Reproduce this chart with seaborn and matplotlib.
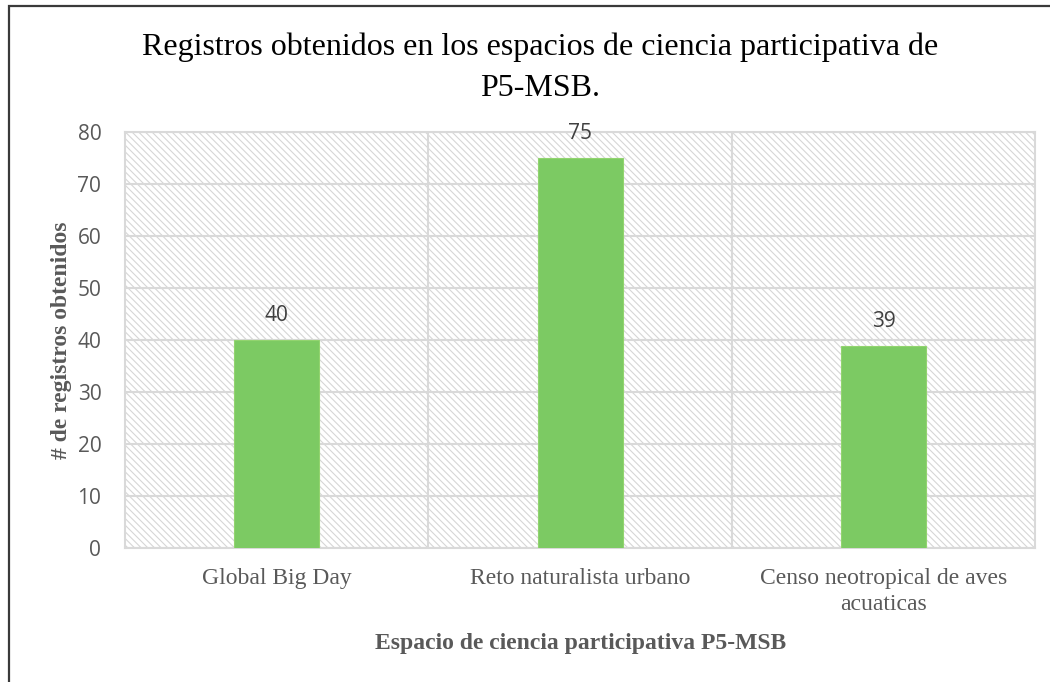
import matplotlib
matplotlib.use("Agg")
import matplotlib.pyplot as plt
import matplotlib.patches as mpatches
import seaborn as sns
import pandas as pd

categories = ["Global Big Day", "Reto naturalista urbano", "Censo neotropical de aves\nacuaticas"]
registros = [40, 75, 39]
y_ticks = [0, 10, 20, 30, 40, 50, 60, 70, 80]

df = pd.DataFrame({"espacio": categories, "registros": registros})

sns.set_theme(style="white")
plt.rcParams["hatch.color"] = "#d6d6d6"
plt.rcParams["hatch.linewidth"] = 0.8

fig = plt.figure(figsize=(10.5, 6.82), dpi=100)
ax = fig.add_axes([0.119, 0.196, 0.867, 0.610])

# hatched plot-area background
bg = mpatches.Rectangle((0, 0), 1, 1, transform=ax.transAxes, facecolor="white",
                        edgecolor="#d6d6d6", hatch="\\\\\\\\\\", linewidth=0, zorder=0)
ax.add_patch(bg)

sns.barplot(data=df, x="espacio", y="registros", color="#7cca63", width=0.28,
            saturation=1, edgecolor="#92d46f", linewidth=0.8, ax=ax, zorder=3)

ax.set_ylim(0, 80)
ax.set_xlim(-0.5, 2.5)
ax.set_yticks(y_ticks)

grid_c = "#d9d9d9"
for y in y_ticks:
    ax.axhline(y, color=grid_c, linewidth=1.5, zorder=1)
for x in [0.5, 1.5]:
    ax.axvline(x, color=grid_c, linewidth=1.5, zorder=1)
for s in ax.spines.values():
    s.set_visible(True)
    s.set_color(grid_c)
    s.set_linewidth(1.5)

ax.tick_params(axis="y", labelsize=15, labelcolor="#595959", length=0, pad=17)
ax.tick_params(axis="x", labelsize=17, labelcolor="#595959", length=0, pad=14)
for lab in ax.get_yticklabels():
    lab.set_fontfamily("Open Sans")
for lab in ax.get_xticklabels():
    lab.set_fontfamily("Liberation Serif")
    lab.set_linespacing(1.3)

for i, v in enumerate(registros):
    ax.annotate(str(v), (i, v), xytext=(0, 10), textcoords="offset points",
                ha="center", va="bottom", fontsize=15, color="#404040",
                family="Open Sans", zorder=4)

ax.set_xlabel("Espacio de ciencia participativa P5-MSB", fontsize=17,
              fontweight="bold", color="#595959", family="Liberation Serif", labelpad=13)
ax.set_ylabel("# de registros obtenidos", fontsize=17, fontweight="bold",
              color="#595959", family="Liberation Serif", labelpad=4)

fig.text(540 / 1050, 1 - 47 / 682, "Registros obtenidos en los espacios de ciencia participativa de",
         ha="center", va="center", fontsize=23, family="Liberation Serif", color="#000000")
fig.text(540 / 1050, 1 - 88 / 682, "P5-MSB.", ha="center", va="center", fontsize=23,
         family="Liberation Serif", color="#000000")

# outer chart frame
frame = mpatches.Rectangle((9 / 1050, -0.1), 1.2, 1.1 - 6 / 682, transform=fig.transFigure,
                           facecolor="none", edgecolor="#3a3a3a", linewidth=1.6, zorder=10)
fig.patches.append(frame)

fig.savefig("out.png", dpi=100)
